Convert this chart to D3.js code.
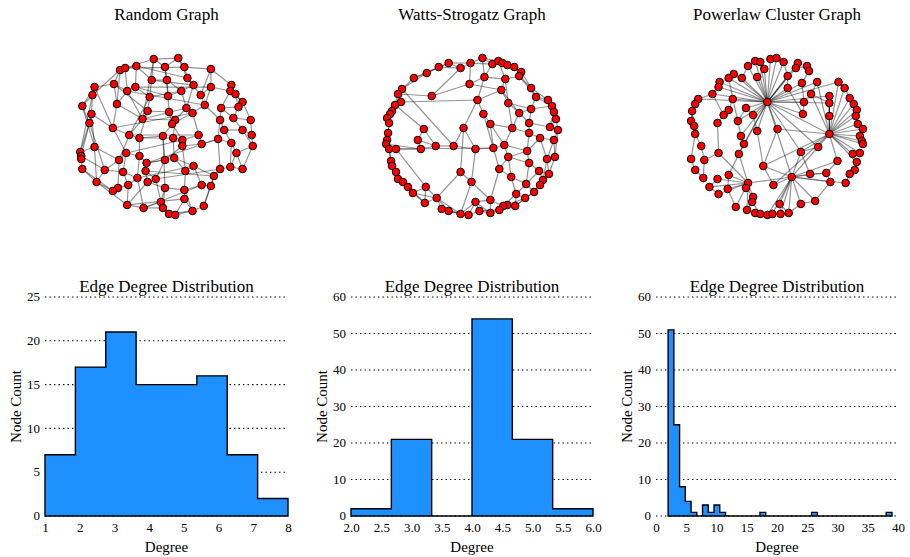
<!DOCTYPE html>
<html>
<head>
<meta charset="utf-8">
<script src="https://cdn.jsdelivr.net/npm/d3@7"></script>
<style>
  body { margin: 0; background: #fff; }
  svg text { font-family: "Liberation Serif", "DejaVu Serif", serif; fill: #000; }
</style>
</head>
<body>
<div id="chart"></div>
<script>
// Network graphs + degree histograms

// ---- layout positions (layout units) ----
const randomNodes = [
  [152,59],[119,70],[124,68],[135,66],[94,87],[113,84],[134,87],[150,80],[126,91],[148,97],
  [92,95],[82,106],[116,104],[146,111],[91,114],[141,119],[89,123],[112,128],[128,135],[138,138],
  [161,136],[94,147],[80,152],[81,156],[81,159],[82,169],[125,153],[138,156],[118,160],[145,163],
  [163,160],[104,170],[122,172],[144,171],[96,182],[136,178],[146,182],[154,179],[127,185],[117,188],
  [112,191],[163,188],[159,202],[126,205],[142,208],[161,208],[167,214],[176,58],[163,67],[182,67],
  [208,69],[165,80],[185,78],[191,85],[208,87],[228,85],[227,91],[232,94],[166,96],[179,91],
  [198,95],[239,102],[235,107],[202,105],[184,108],[190,113],[218,108],[167,112],[173,120],[170,124],
  [217,120],[230,118],[247,120],[221,130],[239,130],[248,135],[249,146],[196,135],[171,138],[180,140],
  [180,146],[199,144],[215,139],[228,143],[233,153],[172,158],[191,166],[183,171],[217,169],[227,167],
  [239,169],[211,176],[199,185],[208,186],[182,190],[182,199],[201,206],[190,211],[173,215]
];
// edges use 1-based node numbers
const randomEdges = [
  [1,3],[1,8],[1,48],[1,49],[1,16],[2,3],[2,6],[2,11],[2,13],[3,4],[3,9],[4,8],[4,7],[4,53],
  [5,11],[5,6],[5,12],[5,18],[6,9],[6,13],[6,14],[7,9],[7,10],[7,59],[8,10],[8,52],[8,54],
  [9,13],[9,16],[10,14],[10,60],[10,19],[11,12],[11,15],[12,17],[12,22],[13,18],[13,16],
  [14,16],[14,68],[14,20],[15,17],[15,18],[15,22],[16,19],[16,69],[17,23],[17,32],[18,19],[18,27],
  [19,20],[19,29],[20,21],[20,28],[20,79],[21,31],[21,70],[21,42],[22,23],[22,29],[22,35],
  [23,24],[24,25],[25,26],[24,32],[26,35],[26,41],[27,28],[27,29],[27,33],[28,30],[28,36],
  [29,32],[29,40],[30,31],[30,34],[30,86],[31,38],[31,81],[32,33],[32,35],[33,39],[33,36],
  [34,37],[34,38],[35,41],[35,44],[36,39],[36,45],[37,38],[37,42],[37,44],[38,43],[39,40],[39,44],
  [40,41],[42,43],[42,46],[43,47],[43,45],[44,45],[45,46],[46,47],[46,99],[47,98],
  [48,49],[48,50],[48,53],[49,52],[49,59],[50,51],[50,53],[51,55],[51,56],[51,61],[52,59],[52,60],
  [53,54],[53,61],[54,60],[54,65],[55,57],[55,61],[55,64],[56,57],[56,58],[57,62],[57,67],
  [58,62],[58,63],[59,68],[59,60],[60,65],[61,64],[62,63],[62,73],[63,72],[63,67],[64,66],[64,71],
  [65,66],[65,69],[66,78],[66,70],[67,71],[67,72],[68,69],[68,70],[69,79],[70,80],[71,74],[71,83],
  [72,73],[72,75],[73,76],[74,75],[74,84],[75,76],[75,77],[76,77],[77,85],[77,91],[78,82],[78,80],
  [79,80],[79,86],[80,81],[81,82],[81,88],[82,83],[83,84],[83,89],[84,85],[84,90],[85,90],[85,91],
  [86,87],[86,88],[87,88],[87,92],[87,93],[88,95],[89,90],[89,92],[90,91],[92,94],[92,97],
  [93,94],[93,95],[94,97],[95,96],[95,98],[96,98],[96,99],[97,98],[98,99],
  [9,64],[18,66],[27,80],[36,87],[38,89],[44,96],[45,93],[16,65],[19,78],[30,83],[34,92],[42,95],
  [7,55],[3,50],[11,23],[15,24]
];

const wattsNodes = [
  [439,67],[449,63],[461,68],[471,63],[427,73],[414,78],[470,84],[402,89],[398,94],[401,102],
  [432,96],[395,105],[392,111],[390,114],[387,118],[389,123],[424,129],[464,128],[388,133],[418,140],
  [387,140],[386,144],[389,149],[396,149],[421,149],[436,146],[454,146],[476,149],[391,161],[392,166],
  [396,172],[461,172],[398,179],[403,182],[408,187],[426,187],[472,182],[413,193],[437,198],[425,203],
  [442,209],[449,211],[461,214],[469,215],[483,58],[493,64],[499,61],[503,63],[508,65],[515,67],
  [522,72],[520,76],[485,77],[506,79],[532,88],[502,90],[537,97],[478,100],[509,103],[549,100],
  [553,106],[555,112],[532,109],[520,113],[484,114],[557,119],[530,123],[491,124],[513,128],[551,127],
  [559,130],[530,133],[541,138],[555,140],[505,145],[494,148],[528,151],[509,157],[556,157],[548,159],
  [530,163],[500,169],[540,171],[550,174],[512,177],[544,180],[527,184],[541,185],[535,192],[517,194],
  [526,198],[491,200],[476,202],[508,205],[516,206],[504,206],[500,210],[491,213],[480,211]
];
const wattsEdges = [
  // ring
  [1,2],[2,3],[3,4],[4,45],[45,46],[46,47],[47,48],[48,49],[49,50],[50,51],[51,52],[52,55],
  [55,57],[57,60],[60,61],[61,62],[62,66],[66,70],[70,71],[71,74],[74,79],[79,80],[80,84],
  [84,86],[86,88],[88,89],[89,91],[91,95],[95,94],[94,96],[96,97],[97,98],[98,99],[99,93],
  [93,44],[44,43],[43,42],[42,41],[41,39],[39,40],[40,38],[38,35],[35,34],[34,33],[33,31],
  [31,30],[30,29],[29,23],[23,22],[22,21],[21,19],[19,16],[16,15],[15,14],[14,13],[13,12],
  [12,10],[10,9],[9,8],[8,6],[6,5],[5,1],
  // second neighbours
  [1,3],[2,4],[5,2],[6,1],[8,5],[10,8],[12,9],[13,10],[14,12],[15,13],[16,14],[21,16],[22,19],
  [23,21],[30,23],[31,29],[33,30],[34,31],[38,34],[40,35],[39,38],[42,39],[43,41],[44,42],
  [93,43],[99,44],[98,93],[97,99],[94,97],[95,96],[91,94],[89,95],[86,89],[84,88],[80,86],
  [79,84],[74,80],[71,79],[66,71],[62,70],[61,66],[60,62],[57,61],[55,60],[52,57],[51,55],
  [49,51],[48,50],[46,48],[45,47],[4,46],
  // rewired
  [11,9],[11,7],[11,3],[7,53],[7,4],[7,56],[17,26],[20,26],[25,26],[17,20],[20,25],[26,27],
  [27,28],[24,25],[24,23],[18,27],[18,32],[18,28],[28,76],[32,37],[32,39],[36,38],[36,39],
  [37,92],[37,43],[53,45],[53,46],[53,54],[53,58],[54,47],[54,56],[54,52],[54,59],[56,58],
  [56,59],[56,64],[58,65],[59,64],[59,69],[59,63],[63,57],[63,64],[63,67],[63,61],[64,67],
  [64,69],[65,68],[65,76],[67,72],[67,70],[68,69],[68,75],[68,76],[69,72],[69,75],[72,73],
  [72,77],[73,74],[73,80],[73,77],[75,76],[75,78],[75,77],[76,82],[77,81],[77,78],[78,81],
  [78,82],[78,85],[81,83],[81,87],[82,85],[82,92],[83,84],[83,86],[83,87],[85,87],[85,90],
  [87,90],[87,89],[90,91],[90,95],[90,96],[92,98],[92,96],[92,93],[8,27],[10,58],[24,76],
  [12,17],[22,25],[40,36],[39,43],[36,24],[28,37],[18,58]
];

const powerNodes = [
  [754,61],[759,62],[769,59],[775,58],[747,66],[763,69],[733,74],[728,78],[741,78],[756,77],
  [719,82],[718,87],[712,94],[698,99],[695,104],[732,99],[766,102],[745,108],[728,110],[692,111],
  [723,115],[752,115],[691,121],[737,121],[694,126],[717,123],[776,129],[756,131],[695,134],[740,136],
  [743,144],[701,146],[718,153],[738,154],[691,159],[704,160],[762,166],[695,170],[728,175],[703,178],
  [717,179],[747,183],[772,185],[709,187],[727,189],[745,188],[718,194],[752,197],[751,202],[735,207],
  [746,210],[754,213],[759,214],[766,215],[771,214],[779,214],[782,62],[796,63],[794,68],[805,66],
  [807,71],[786,76],[815,82],[800,83],[836,82],[786,88],[842,88],[809,94],[827,96],[847,98],
  [851,104],[802,102],[827,103],[854,110],[853,116],[801,114],[827,116],[855,124],[860,129],[827,134],
  [857,136],[859,141],[860,144],[816,147],[799,152],[850,154],[857,153],[835,161],[854,162],[852,170],
  [808,174],[824,173],[847,174],[790,177],[828,182],[843,183],[813,201],[799,204],[778,204],[787,213]
];
const powerEdges = [
  // hub 17
  [17,1],[17,2],[17,3],[17,4],[17,5],[17,6],[17,7],[17,8],[17,9],[17,10],[17,11],[17,12],[17,13],
  [17,14],[17,16],[17,18],[17,22],[17,24],[17,27],[17,28],[17,30],[17,31],[17,57],[17,58],[17,59],
  [17,62],[17,64],[17,66],[17,72],[17,76],[17,80],[17,84],[17,85],[17,94],[17,63],[17,65],[17,69],
  [17,73],[17,34],
  // hub 80
  [80,65],[80,67],[80,69],[80,70],[80,71],[80,73],[80,74],[80,75],[80,77],[80,78],[80,79],[80,81],
  [80,82],[80,83],[80,86],[80,87],[80,84],[80,88],[80,89],[80,27],[80,37],[80,43],[80,85],[80,63],
  [80,68],
  // hub 94
  [94,84],[94,85],[94,91],[94,92],[94,95],[94,97],[94,98],[94,99],[94,100],[94,56],[94,55],[94,43],
  [94,37],[94,88],[94,96],[94,42],[94,54],
  // node 42
  [42,39],[42,41],[42,44],[42,45],[42,46],[42,47],[42,50],[42,51],[42,48],[42,33],[42,34],
  // the rest
  [1,2],[1,5],[3,4],[4,57],[6,10],[7,8],[8,11],[5,9],[11,12],[12,13],[13,14],[14,15],[15,20],
  [16,19],[18,22],[19,21],[20,23],[21,26],[23,25],[25,29],[26,33],[29,32],[32,36],[24,30],
  [30,31],[31,34],[28,22],[27,37],[33,36],[35,38],[35,29],[36,40],[38,40],[39,45],[41,44],
  [44,47],[45,50],[46,48],[49,51],[49,53],[52,53],[53,54],[54,55],[55,56],[56,99],[99,100],
  [98,100],[97,98],[95,97],[92,95],[91,92],[93,96],[90,93],[89,90],[86,87],[82,83],[79,81],
  [78,79],[74,75],[70,71],[67,70],[65,67],[63,68],[60,61],[58,59],[57,62],[59,60],[61,64],
  [62,66],[64,72],[66,76],[72,76],[68,73],[73,77],[69,77],[84,85],[85,91],[88,92],[37,43],
  [28,37],[34,39],[16,24],[18,24],[8,16],[7,9],[13,21],[15,23],[20,25]
];

// ---- degree histograms ----
const randomDegreeRange = [1, 8];
const randomCounts = [7, 17, 21, 15, 15, 16, 7, 2];
const randomXTicks = [1, 2, 3, 4, 5, 6, 7, 8];
const randomYTicks = [0, 5, 10, 15, 20, 25];

const wattsDegreeRange = [2, 6];
const wattsCounts = [2, 21, 0, 54, 21, 2];
const wattsXTicks = [2.0, 2.5, 3.0, 3.5, 4.0, 4.5, 5.0, 5.5, 6.0];
const wattsYTicks = [0, 10, 20, 30, 40, 50, 60];

const powerDegreeRange = [2, 39];
const powerCounts = [51,25,8,4,1,0,3,1,3,1, 0,0,0,0,0,0,1,0,0,0, 0,0,0,0,0,1,0,0,0,0, 0,0,0,0,0,0,0,0,1];
const powerXTicks = [0, 5, 10, 15, 20, 25, 30, 35, 40];
const powerYTicks = [0, 10, 20, 30, 40, 50, 60];

const graphTitles = ["Random Graph", "Watts-Strogatz Graph", "Powerlaw Cluster Graph"];

const W = 910, H = 557;
const columns = [[45, 288], [351, 593], [656, 898]];
const graphTop = 26, graphBottom = 247;
const histTop = 297, histBottom = 516;
const BAR_COLOR = "#1e90ff";

const svg = d3.select("#chart").append("svg")
  .attr("width", W)
  .attr("height", H);

function drawGraph(col, nodes, edges, title) {
  const [x0, x1] = columns[col];
  const padX = (x1 - x0) * 0.145;
  const padY = (graphBottom - graphTop) * 0.145;
  const x = d3.scaleLinear().domain(d3.extent(nodes, d => d[0])).range([x0 + padX, x1 - padX]);
  const y = d3.scaleLinear().domain(d3.extent(nodes, d => d[1])).range([graphTop + padY, graphBottom - padY]);

  const g = svg.append("g");
  g.selectAll("line.edge")
    .data(edges)
    .join("line")
    .attr("class", "edge")
    .attr("x1", d => x(nodes[d[0] - 1][0]))
    .attr("y1", d => y(nodes[d[0] - 1][1]))
    .attr("x2", d => x(nodes[d[1] - 1][0]))
    .attr("y2", d => y(nodes[d[1] - 1][1]))
    .attr("stroke", "#000")
    .attr("stroke-opacity", 0.42)
    .attr("stroke-width", 1.2);

  g.selectAll("circle.node")
    .data(nodes)
    .join("circle")
    .attr("class", "node")
    .attr("cx", d => x(d[0]))
    .attr("cy", d => y(d[1]))
    .attr("r", 3.8)
    .attr("fill", "#ff0000")
    .attr("stroke", "#000")
    .attr("stroke-width", 1);

  svg.append("text")
    .attr("x", (x0 + x1) / 2)
    .attr("y", 20)
    .attr("text-anchor", "middle")
    .attr("font-size", "17px")
    .text(title);
}

function drawHist(col, range, counts, xDomain, xTicks, yTicks, fmt) {
  const [x0, x1] = columns[col];
  const x = d3.scaleLinear().domain(xDomain).range([x0, x1]);
  const y = d3.scaleLinear().domain([yTicks[0], yTicks[yTicks.length - 1]]).range([histBottom, histTop]);
  const g = svg.append("g");

  // dotted grid
  g.selectAll("line.grid")
    .data(yTicks)
    .join("line")
    .attr("x1", x0).attr("x2", x1)
    .attr("y1", d => y(d)).attr("y2", d => y(d))
    .attr("stroke", "#000")
    .attr("stroke-width", 1.1)
    .attr("stroke-dasharray", "1.4,3.1");

  // stepfilled outline
  const n = counts.length;
  const w = (range[1] - range[0]) / n;
  const pts = [[range[0], 0]];
  counts.forEach((c, i) => {
    pts.push([range[0] + i * w, c]);
    pts.push([range[0] + (i + 1) * w, c]);
  });
  pts.push([range[1], 0]);
  const line = d3.line().x(d => x(d[0])).y(d => y(d[1]));
  g.append("path")
    .attr("d", line(pts) + "Z")
    .attr("fill", BAR_COLOR)
    .attr("stroke", "#000")
    .attr("stroke-width", 1.4)
    .attr("stroke-linejoin", "miter");

  const xAxis = g.append("g")
    .attr("transform", `translate(0,${histBottom})`)
    .call(d3.axisBottom(x).tickValues(xTicks).tickSize(0).tickPadding(7).tickFormat(fmt));
  xAxis.select(".domain").remove();
  xAxis.selectAll("text").attr("font-size", "13px").attr("font-family", null);

  const yAxis = g.append("g")
    .attr("transform", `translate(${x0},0)`)
    .call(d3.axisLeft(y).tickValues(yTicks).tickSize(0).tickPadding(5));
  yAxis.select(".domain").remove();
  yAxis.selectAll("text").attr("font-size", "13px").attr("font-family", null)
    .attr("dy", "0.28em");

  g.append("text")
    .attr("x", (x0 + x1) / 2)
    .attr("y", histTop - 5)
    .attr("text-anchor", "middle")
    .attr("font-size", "17px")
    .text("Edge Degree Distribution");

  g.append("text")
    .attr("x", (x0 + x1) / 2)
    .attr("y", 552)
    .attr("text-anchor", "middle")
    .attr("font-size", "15px")
    .text("Degree");

  g.append("text")
    .attr("transform", `translate(${x0 - 24},${(histTop + histBottom) / 2}) rotate(-90)`)
    .attr("text-anchor", "middle")
    .attr("font-size", "15px")
    .text("Node Count");
}

drawGraph(0, randomNodes, randomEdges, graphTitles[0]);
drawGraph(1, wattsNodes, wattsEdges, graphTitles[1]);
drawGraph(2, powerNodes, powerEdges, graphTitles[2]);

drawHist(0, randomDegreeRange, randomCounts, [1, 8], randomXTicks, randomYTicks, d3.format("d"));
drawHist(1, wattsDegreeRange, wattsCounts, [2, 6], wattsXTicks, wattsYTicks, d3.format(".1f"));
drawHist(2, powerDegreeRange, powerCounts, [0, 40], powerXTicks, powerYTicks, d3.format("d"));
</script>
</body>
</html>
